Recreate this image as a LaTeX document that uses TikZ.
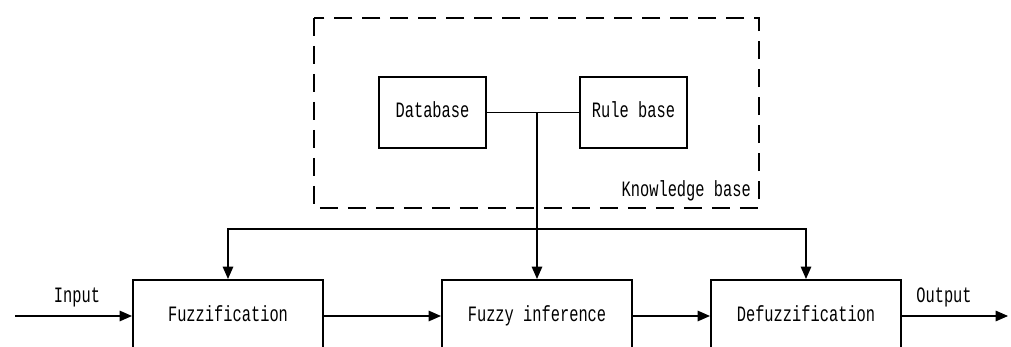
\documentclass[tikz,border=0pt]{standalone}
\usepackage{fontspec}
\newfontfamily\diafont[FakeStretch=0.7]{Liberation Mono}
\usetikzlibrary{arrows.meta}
\tikzset{
  lbl/.style={font=\diafont\fontsize{12.5}{14}\selectfont, text height=8pt, text depth=2pt},
  blockbox/.style={lbl, draw, line width=1.2pt, minimum width=3.8cm, minimum height=1.44cm},
  basebox/.style={lbl, draw, line width=1.2pt, minimum width=2.14cm, minimum height=1.42cm},
  conn/.style={line width=0.6pt},
  arr/.style={line width=0.6pt, -{Triangle[length=7pt, width=6pt]}}
}
\begin{document}
\begin{tikzpicture}[x=0.02cm, y=-0.02cm]
  \useasboundingbox (0,0) rectangle (1011,347);
  \clip (0,0) rectangle (1011,347);
  % knowledge base
  \draw[line width=1.4pt, dash pattern=on 0.36cm off 0.2cm] (314,18) rectangle (759,208);
  \node[lbl, anchor=east] (kb) at (757,191) {Knowledge base};
  \node[basebox] (db) at (432.5,112.5) {Database};
  \node[basebox] (rb) at (633.5,112.5) {Rule base};
  \draw[conn] (db) -- (rb);
  \coordinate (j) at (537,113);
  % processing chain
  \node[blockbox] (fz) at (228,316) {Fuzzification};
  \node[blockbox] (fi) at (537,316) {Fuzzy inference};
  \node[blockbox] (dz) at (806,316) {Defuzzification};
  \coordinate (in) at (15,316);
  \coordinate (out) at (1008,316);
  \draw[arr] (in) -- (fz);
  \node[lbl] (inlbl) at (77,297) {Input};
  \draw[arr] (fz) -- (fi);
  \draw[arr] (fi) -- (dz);
  \draw[arr] (dz) -- (out);
  \node[lbl] (outlbl) at (944,297) {Output};
  % bus
  \draw[arr] (j) -- (fi.north);
  \coordinate (bl) at (228,229);
  \coordinate (br) at (806,229);
  \draw[arr] (bl -| fi.north) -- (bl) -- (fz.north);
  \draw[arr] (bl -| fi.north) -- (br) -- (dz.north);
\end{tikzpicture}
\end{document}
